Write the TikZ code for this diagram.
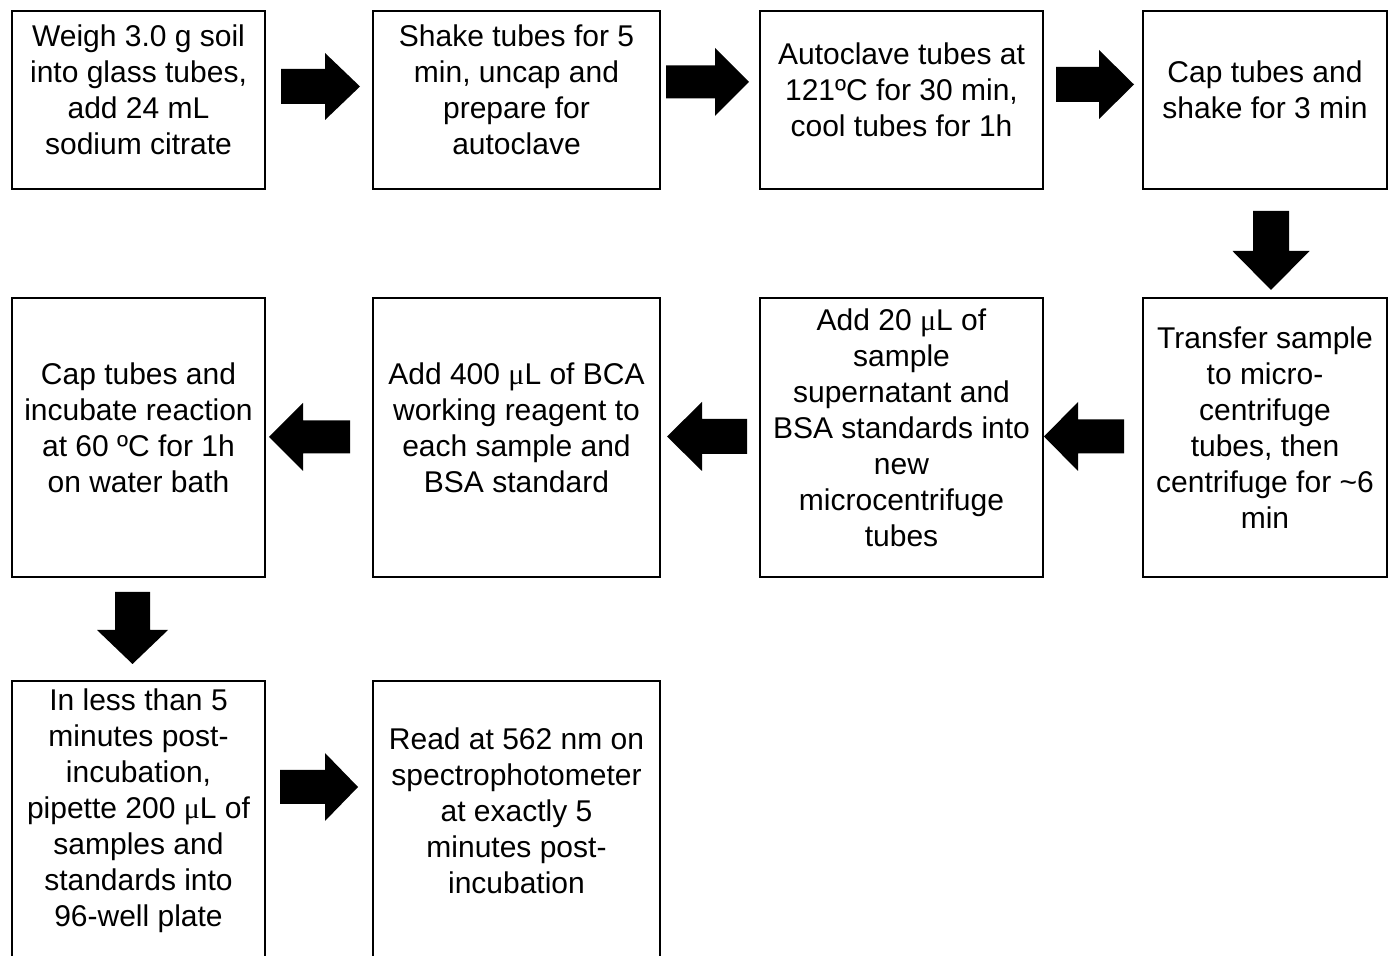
\documentclass[tikz,border=0pt]{standalone}
\usepackage{fontspec}
\setmainfont{Liberation Sans}
\newfontfamily\symfont{Liberation Serif}
\newcommand{\umu}{{\symfont μ}}
\usetikzlibrary{fit}
\tikzset{
  x=0.5pt, y=-0.5pt,
  box/.style={draw=black, line width=1.1pt, inner sep=0pt, fill=white},
  boxtext/.style={align=center, font=\fontsize{15pt}{18pt}\selectfont, inner sep=0pt},
  pics/barrow/.style n args={4}{code={
    \fill[black] ({-#1/2},{-#3/2}) -- ({#1/2-#2},{-#3/2}) -- ({#1/2-#2},{-#4/2})
      -- ({#1/2},0) -- ({#1/2-#2},{#4/2}) -- ({#1/2-#2},{#3/2}) -- ({-#1/2},{#3/2}) -- cycle;
  }}
}
\begin{document}
\begin{tikzpicture}
\useasboundingbox (0,0) rectangle (1394,956);
\clip (0,0) rectangle (1394,956);
% boxes
\node[box, fit={(12,11) (265,189)}] (b1) {};
\node[box, fit={(373,11) (660,189)}] (b2) {};
\node[box, fit={(760,11) (1043,189)}] (b3) {};
\node[box, fit={(1143,11) (1387,189)}] (b4) {};
\node[box, fit={(12,298) (265,577)}] (b5) {};
\node[box, fit={(373,298) (660,577)}] (b6) {};
\node[box, fit={(760,298) (1043,577)}] (b7) {};
\node[box, fit={(1143,298) (1387,577)}] (b8) {};
\node[box, fit={(12,681) (265,960)}] (b9) {};
\node[box, fit={(373,681) (660,960)}] (b10) {};
% texts
\node[boxtext] (t1) at ([yshift=5pt]b1.center) {Weigh 3.0 g soil\\into glass tubes,\\add 24 mL\\sodium citrate};
\node[boxtext] (t2) at ([yshift=5pt]b2.center) {Shake tubes for 5\\min, uncap and\\prepare for\\autoclave};
\node[boxtext] (t3) at ([yshift=5pt]b3.center) {Autoclave tubes at\\121ºC for 30 min,\\cool tubes for 1h};
\node[boxtext] (t4) at ([yshift=5pt]b4.center) {Cap tubes and\\shake for 3 min};
\node[boxtext] (t5) at ([yshift=5pt]b5.center) {Cap tubes and\\incubate reaction\\at 60 ºC for 1h\\on water bath};
\node[boxtext] (t6) at ([yshift=5pt]b6.center) {Add 400 \umu L of BCA\\working reagent to\\each sample and\\BSA standard};
\node[boxtext] (t7) at ([yshift=5pt]b7.center) {Add 20 \umu L of\\sample\\supernatant and\\BSA standards into\\new\\microcentrifuge\\tubes};
\node[boxtext] (t8) at ([yshift=5pt]b8.center) {Transfer sample\\to micro-\\centrifuge\\tubes, then\\centrifuge for \textasciitilde6\\min};
\node[boxtext] (t9) at ([yshift=5pt]b9.center) {In less than 5\\minutes post-\\incubation,\\pipette 200 \umu L of\\samples and\\standards into\\96-well plate};
\node[boxtext] (t10) at ([yshift=5pt]b10.center) {Read at 562 nm on\\spectrophotometer\\at exactly 5\\minutes post-\\incubation};
% block arrows
\pic (a1) at (320.5,86.5) {barrow={79}{35}{35}{67}};
\pic (a2) at (707.5,82) {barrow={83}{34}{33}{68}};
\pic (a3) at (1095,84.5) {barrow={78}{35}{35}{69}};
\pic[rotate=-90] (a4) at (1271,250.5) {barrow={79}{39}{36}{77}};
\pic[rotate=180] (a5) at (1084,436.5) {barrow={80}{34}{34}{69}};
\pic[rotate=180] (a6) at (707,436.5) {barrow={80}{35}{35}{69}};
\pic[rotate=180] (a7) at (309.5,437) {barrow={81}{34}{33}{68}};
\pic[rotate=-90] (a8) at (132.5,628) {barrow={72}{34}{35}{71}};
\pic (a9) at (319,787) {barrow={78}{33}{34}{68}};
\end{tikzpicture}
\end{document}
